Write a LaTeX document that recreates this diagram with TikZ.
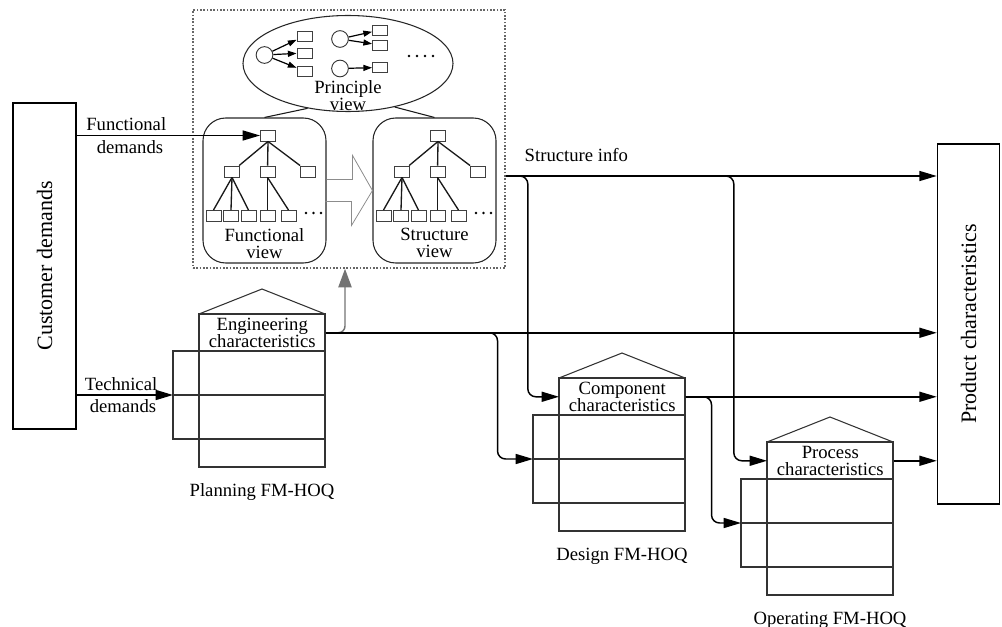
\documentclass[tikz,border=0pt]{standalone}
\usepackage{fontspec}
\setmainfont{Liberation Serif}
\usetikzlibrary{arrows.meta,shapes.geometric}

\newcommand\tightlines{\lineskiplimit=-100pt\relax}
\newcommand\hoqfont{\fontsize{14pt}{12.75pt}\selectfont\tightlines}

\tikzset{
  conn/.style={line width=1.1pt, -{Triangle[length=13pt,width=7.5pt]}},
  grayconn/.style={line width=1.1pt, draw=black!55, -{Triangle[length=14pt,width=10pt,fill=black!55]}},
  smallarr/.style={line width=0.9pt, -{Triangle[length=6.5pt,width=4.5pt]}},
  hoqline/.style={line width=0.8pt, draw=black!80},
  hoqhead/.style={minimum width=94.5pt, minimum height=27.75pt, inner sep=0pt, align=center, font=\hoqfont},
  sq/.style={draw=black!75, line width=0.7pt, minimum width=11.25pt, minimum height=8.25pt, inner sep=0pt},
  circ/.style={circle, draw=black!80, line width=0.7pt, minimum size=12.5pt, inner sep=0pt},
  treeline/.style={line width=1pt, draw=black!90},
  viewbox/.style={draw=black!85, line width=0.8pt, rounded corners=17pt, minimum width=92.25pt, minimum height=108.75pt, inner sep=0pt},
  viewtext/.style={align=center, inner sep=0pt, font=\hoqfont},
  bigbox/.style={draw, line width=1.2pt, inner sep=0pt},
  bigtext/.style={rotate=90, font=\fontsize{16.5pt}{18pt}\selectfont},
  lbl/.style={inner sep=3pt},
  hollow/.style={draw=black!45, line width=0.6pt},
}

% one house-of-quality chart: name, x, y of the top-left wall corner, header, caption
\newcommand\hoq[5]{%
  \begin{scope}[shift={(#2,#3)}]
    \draw[hoqline] (0,0) -- (63,-25) -- (126,0);
    \draw[hoqline] (0,0) rectangle (126,153);
    \draw[hoqline] (-26,37) rectangle (0,125);
    \draw[hoqline] (0,37) -- (126,37);
    \draw[hoqline] (-26,81) -- (126,81);
    \draw[hoqline] (0,125) -- (126,125);
    \node[hoqhead, anchor=north west] (#1) at (0,0) {#4};
    \node[anchor=base] (#1-cap) at (63,182) {#5};
    \coordinate (#1-in) at (-26,81);
  \end{scope}}

% hierarchy tree drawn inside a view box: node prefix, x offset
\newcommand\viewtree[2]{%
  \begin{scope}[shift={(#2,0)}]
    \node[sq] (#1r) at (268,135.5) {};
    \node[sq] (#1a) at (232,171.5) {};
    \node[sq] (#1b) at (267.5,171.5) {};
    \node[sq] (#1c) at (308,171.5) {};
    \node[sq] (#1l1) at (213.5,216) {};
    \node[sq] (#1l2) at (231,216) {};
    \node[sq] (#1l3) at (248.5,216) {};
    \node[sq] (#1l4) at (267.5,216) {};
    \node[sq] (#1l5) at (288.5,216) {};
    \foreach \px in {306,313.5,321} \fill (\px,213) circle (1.1pt);
    \draw[treeline] (#1r.south) -- (#1a);
    \draw[treeline] (#1r.south) -- (#1b);
    \draw[treeline] (#1r.south) -- (#1c);
    \draw[treeline] (#1a.south) -- (#1l1.north);
    \draw[treeline] (#1a.south) -- (#1l2.north);
    \draw[treeline] (#1a.south) -- (#1l3.north);
    \draw[treeline] (#1b.south) -- (#1l4.north);
    \draw[treeline] (#1b.south) -- (#1l5.north);
  \end{scope}}

\begin{document}
\begin{tikzpicture}[x=0.75pt, y=-0.75pt, font=\fontsize{14pt}{16pt}\selectfont]
\useasboundingbox (0,0) rectangle (1002,627);

% customer and product boxes
\node[bigbox, minimum width=47.25pt, minimum height=244.5pt] (cust) at (44.5,266) {};
\node[bigtext] (custt) at (cust) {Customer demands};
\node[bigbox, minimum width=46.5pt, minimum height=270pt] (prod) at (968.5,324) {};
\node[bigtext] (prodt) at (prod) {Product characteristics};

% dotted frame around the three views
\node[draw=black!60, line width=1.2pt, dash pattern=on 1.2pt off 1.3pt,
      minimum width=234pt, minimum height=193.5pt, inner sep=0pt] (dot) at (349,139) {};

% principle view
\node[ellipse, draw=black!85, line width=0.8pt, minimum width=157.5pt, minimum height=72pt, inner sep=0pt] (pv) at (348,63.5) {};
\node[viewtext, anchor=north] (pvt) at (348,80) {Principle\\view};
\node[circ] (c1) at (264.5,55) {};
\node[sq, minimum height=7.5pt] (s11) at (304.5,36) {};
\node[sq, minimum height=7.5pt] (s12) at (304.5,53) {};
\node[sq, minimum height=7.5pt] (s13) at (304.5,71) {};
\node[circ] (c2) at (340,39) {};
\node[sq, minimum height=7.5pt] (s21) at (380,30) {};
\node[sq, minimum height=7.5pt] (s22) at (380,45) {};
\node[circ] (c3) at (340,68.5) {};
\node[sq, minimum height=7.5pt] (s31) at (380,67.5) {};
\draw[smallarr] (c1) -- (s11);
\draw[smallarr] (c1) -- (s12);
\draw[smallarr] (c1) -- (s13);
\draw[smallarr] (c2) -- (s21);
\draw[smallarr] (c2) -- (s22);
\draw[smallarr] (c3) -- (s31);
\foreach \px in {409,417,425,433} \fill (\px,56) circle (1.1pt);

% functional and structure views
\node[viewbox] (fv) at (264.5,190.5) {};
\node[viewbox] (sv) at (434.5,190.5) {};
\draw[treeline, line width=0.8pt] (pv.228) -- (fv.north);
\draw[treeline, line width=0.8pt] (pv.-43) -- (sv.north);
\viewtree{F}{0}
\viewtree{S}{170}
\node[viewtext, anchor=north] (fvt) at (264.5,228) {Functional\\view};
\node[viewtext, anchor=north] (svt) at (434.5,228) {Structure\\view};

% mapping from functional to structure view
\draw[hollow] (fv.east) ++(0,-11) -- ++(26,0) -- ++(0,-24) -- (sv.west)
  -- ++(-21,35) -- ++(0,-24) -- ++(-26,0);

% house-of-quality charts
\hoq{eng}{199}{314}{Engineering\\characteristics}{Planning FM-HOQ}
\hoq{comp}{559}{378}{Component\\characteristics}{Design FM-HOQ}
\hoq{proc}{767}{442}{Process\\characteristics}{Operating FM-HOQ}

% demands coming from the customer
\draw[conn] (cust.east |- Fr) -- node[lbl, above, pos=0.27] (fd1) {Functional}
  node[lbl, below, pos=0.29] (fd2) {demands} (Fr.west);
\draw[conn] (cust.east |- eng-in) -- node[lbl, above, pos=0.46] (td1) {Technical}
  node[lbl, below, pos=0.48] (td2) {demands} (eng-in);

% engineering characteristics feed the views
\coordinate (gup) at (dot.south -| 345,0);
\draw[grayconn, rounded corners=5pt] (eng.east) -| (gup);

% structure info
\coordinate (sinfo) at (dot.east |- 0,176);
\node[anchor=base west] (sil) at (520,162) {Structure info};
\draw[conn] (sinfo) -- (prod.west |- sinfo);
\draw[conn, rounded corners=6pt] (sinfo) -- ++(22,0) |- (comp.west);
\draw[conn, rounded corners=6pt] (sinfo) -- ++(228,0) |- (proc.west);

% characteristics flowing downstream and into the product
\draw[conn] (eng.east) -- (prod.west |- eng.east);
\draw[conn, rounded corners=6pt] (eng.east) -- ++(172,0) |- (comp-in);
\draw[conn] (comp.east) -- (prod.west |- comp.east);
\draw[conn, rounded corners=6pt] (comp.east) -- ++(26,0) |- (proc-in);
\draw[conn] (proc.east) -- (prod.west |- proc.east);
\end{tikzpicture}
\end{document}
